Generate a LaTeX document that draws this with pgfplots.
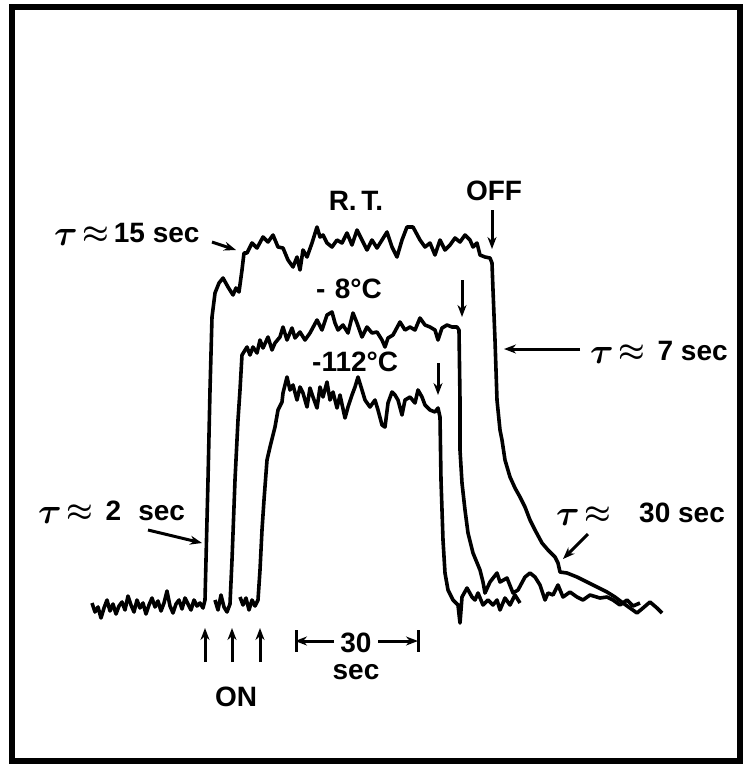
\documentclass[border=0pt]{standalone}
\usepackage{fontspec}
\setmainfont{Liberation Sans}
\usepackage{bm}
\usepackage{graphicx}
\usepackage{pgfplots}
\pgfplotsset{compat=1.18}
\usetikzlibrary{arrows.meta}
\newcommand{\tapp}{\raisebox{-0.12em}{\scalebox{1.45}{$\bm{\tau}$}}\,\scalebox{1.2}{$\bm{\approx}$}}
\begin{document}
\begin{tikzpicture}
\begin{axis}[x=1pt,y=1pt,y dir=reverse,xmin=0,xmax=744,ymin=0,ymax=764,
  hide axis, clip=false, scale only axis]
\path (axis cs:0,0) rectangle (axis cs:744,764);
\draw[line width=6pt] (axis cs:11.5,7) rectangle (axis cs:740,761);
\pgfplotsset{tr/.style={black,no markers,line width=3.6pt,line join=round}}
% R.T. trace
\addplot[tr] coordinates {
(92,603)(95,612)(98,607)(101,618)(104,608)(107,600)(110,611)(113,604)(116,614)(119,606)(122,602)(125,610)(128,596)(131,605)(134,612)(137,600)(140,608)(143,603)(146,614)(149,605)(152,598)(155,607)(158,601)(161,611)(164,603)(167,591)(170,606)(173,613)(176,604)(179,600)(182,609)(185,598)(188,604)(191,610)(194,600)(197,606)(200,603)(203,608)
(205,600)(208,480)(210,390)(212,317)(215,293)(219,283)(223,278)(228,287)(233,295)(236,288)(239,292)(242,270)(244,253)(247,253)(252,243)(257,248)(263,237)(268,242)(273,235)(278,247)(283,248)(288,260)(293,267)(297,257)(300,270)(303,250)(307,257)(312,243)(317,227)(320,237)(323,235)(327,243)(332,247)(337,240)(342,243)(347,233)(352,245)(357,230)(362,240)(367,250)(372,240)(377,248)(382,240)(387,232)(392,247)(397,257)(402,240)(407,227)(413,227)(420,240)(425,247)(430,243)(435,255)(440,240)(445,250)(450,245)(455,238)(460,242)(465,235)(470,240)(473,247)(477,243)(480,255)(485,257)(490,258)(492,263)
(493,290)(495,340)(497,400)(500,430)(502,440)(505,460)(510,477)(515,488)(520,497)(525,507)(530,520)(535,530)(542,543)(548,550)(555,557)(558,563)(560,572)(567,573)(577,577)(587,582)(597,587)(607,592)(615,597)(623,603)(630,608)(637,613)(643,608)(650,602)(657,608)(662,613)
};
% -8 C trace
\addplot[tr] coordinates {
(215,600)(218,610)(221,595)(224,607)(227,612)(230,604)(232,560)(235,480)(238,420)(240,390)(242,355)(247,347)(250,355)(253,347)(257,353)(260,340)(263,348)(268,337)(272,350)(275,343)(280,337)(283,327)(287,340)(292,328)(295,338)(300,332)(305,340)(310,333)(317,320)(322,330)(327,315)(332,312)(335,323)(338,330)(343,325)(348,333)(353,313)(357,323)(362,337)(367,327)(372,333)(377,332)(382,340)(385,347)(388,338)(393,335)(400,322)(405,330)(410,327)(415,330)(420,318)(425,325)(430,327)(435,330)(438,340)(442,328)(447,325)(452,327)(457,327)(459,330)
(460,400)(460,450)(462,483)(465,510)(468,533)(473,553)(480,570)(483,582)(485,593)(490,582)(497,573)(500,582)(507,578)(513,593)(518,590)(525,577)(530,573)(535,577)(540,585)(545,600)(548,593)(553,595)(558,585)(563,597)(570,592)(577,597)(583,600)(590,595)(600,598)(607,597)(613,600)(620,605)(627,600)(633,606)(640,603)
};
% -112 C trace
\addplot[tr] coordinates {
(240,597)(243,605)(246,598)(249,610)(252,600)(255,606)(258,600)(260,570)(262,530)(264,500)(267,460)(270,447)(275,427)(278,410)(282,402)(283,393)(287,377)(290,390)(293,385)(297,400)(300,387)(303,393)(307,407)(310,388)(313,397)(317,408)(320,387)(323,397)(327,382)(330,400)(333,392)(337,408)(340,395)(345,418)(348,407)(352,395)(355,387)(358,377)(362,390)(365,400)(370,407)(375,400)(378,410)(382,425)(385,427)(388,403)(392,392)(395,395)(398,400)(402,415)(405,400)(410,397)(415,403)(418,390)(422,397)(425,405)(430,410)(435,412)(438,408)(440,417)
(441,480)(443,540)(445,573)(448,590)(453,600)(458,605)(460,623)(462,597)(467,588)(472,597)(475,600)(478,593)(483,605)(488,600)(493,605)(497,600)(500,610)(505,598)(510,605)(515,595)(520,603)
};
% arrows
\tikzset{ar/.style={line width=3pt,-{Stealth[length=12pt,width=9pt]}}}
\draw[ar] (axis cs:492,210) -- (axis cs:492,249);
\draw[ar] (axis cs:462,280) -- (axis cs:462,317);
\draw[ar] (axis cs:438,363) -- (axis cs:438,395);
\draw[ar] (axis cs:212,242) -- (axis cs:236,250);
\draw[ar] (axis cs:580,349) -- (axis cs:504,349);
\draw[ar] (axis cs:148,530) -- (axis cs:202,543);
\draw[ar] (axis cs:588,534) -- (axis cs:563,559);
\draw[ar] (axis cs:205,662) -- (axis cs:205,628);
\draw[ar] (axis cs:232,662) -- (axis cs:232,628);
\draw[ar] (axis cs:260,662) -- (axis cs:260,628);
\draw[ar] (axis cs:334,641) -- (axis cs:295,641);
\draw[ar] (axis cs:378,641) -- (axis cs:418,641);
\draw[line width=3pt] (axis cs:296,630) -- (axis cs:296,652);
\draw[line width=3pt] (axis cs:418,630) -- (axis cs:418,652);
% labels
\tikzset{lb/.style={font=\fontsize{28}{32}\bfseries\selectfont, inner sep=0pt}}
\node[lb,anchor=base west] at (axis cs:54,242) {\tapp\,15 sec};
\node[lb,anchor=base] at (axis cs:356,210) {R.\,T.};
\node[lb,anchor=base] at (axis cs:494,200) {OFF};
\node[lb,anchor=base west] at (axis cs:316,298) {-\,\,8°C};
\node[lb,anchor=base west] at (axis cs:312,371) {-112°C};
\node[lb,anchor=base west] at (axis cs:590,360) {\tapp\, 7 sec};
\node[lb,anchor=base west] at (axis cs:38,520) {\tapp\, 2\,\, sec};
\node[lb,anchor=base west] at (axis cs:556,522) {\tapp\quad 30 sec};
\node[lb,anchor=base] at (axis cs:356,652) {30};
\node[lb,anchor=base] at (axis cs:356,679) {sec};
\node[lb,anchor=base] at (axis cs:236,706) {ON};
\end{axis}
\end{tikzpicture}
\end{document}
